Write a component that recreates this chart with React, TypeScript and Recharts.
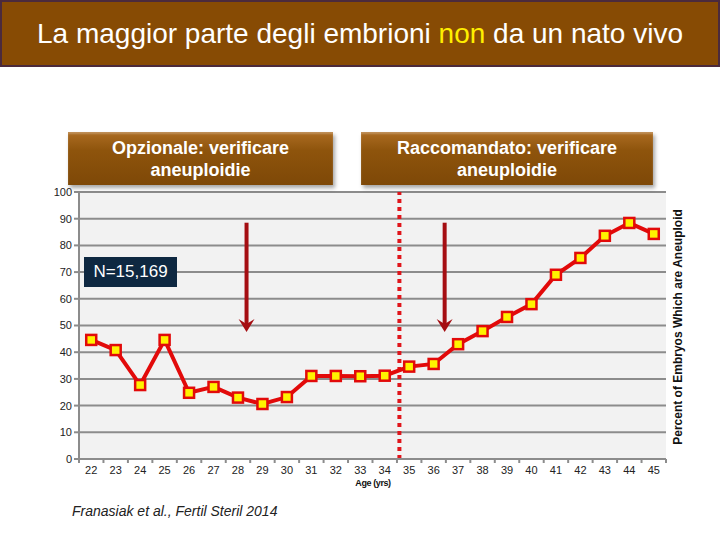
import React from "react";
import { LineChart, Line, XAxis, YAxis, CartesianGrid, ReferenceLine } from "recharts";

const ages = [22, 23, 24, 25, 26, 27, 28, 29, 30, 31, 32, 33, 34, 35, 36, 37, 38, 39, 40, 41, 42, 43, 44, 45];
const aneuploidy = [
  44.6, 40.8, 27.7, 44.6, 24.8, 27.0, 23.0, 20.6, 23.2, 31.1, 31.1, 31.0, 31.2, 34.6, 35.6, 43.0, 47.9, 53.2, 58.0,
  69.0, 75.3, 83.6, 88.4, 84.3,
];
const yTicks = [0, 10, 20, 30, 40, 50, 60, 70, 80, 90, 100];
// cut-off age and the two arrows (age, top, tip)
const cutoffAge = 34.6;
const arrows = [
  { age: 28.35, from: 88.5, to: 47.6 },
  { age: 36.45, from: 88.5, to: 47.6 },
];

const data = ages.map((age, i) => ({ age, value: aneuploidy[i] }));

const W = 720;
const H = 540;
const xAxisHeight = 30;
const margin = { top: 192, right: 54, bottom: 81 - xAxisHeight, left: 49 };
const yAxisWidth = 30;
const halfBand = (W - margin.left - margin.right - yAxisWidth) / ages.length / 2;
const grey = "#8C8C8C";

function SquareDot(props: any) {
  const { cx, cy } = props;
  if (cx == null || cy == null) return null;
  return <rect x={cx - 5} y={cy - 5} width={10} height={10} fill="#FFF200" stroke="#E20A0A" strokeWidth={2.5} />;
}

function AgeTick(props: any) {
  const { x, y, payload, index } = props;
  const axisY = y - 7;
  return (
    <g>
      <line x1={x - halfBand} y1={axisY} x2={x - halfBand} y2={axisY + 4} stroke={grey} strokeWidth={2} />
      {index === ages.length - 1 && (
        <line x1={x + halfBand} y1={axisY} x2={x + halfBand} y2={axisY + 4} stroke={grey} strokeWidth={2} />
      )}
      <text x={x} y={y} dy="0.71em" textAnchor="middle" fontSize={11} fill="#222" fontFamily="Liberation Sans, Arial">
        {payload.value}
      </text>
    </g>
  );
}

function Arrow(props: any) {
  const { x1, y1, x2, y2 } = props;
  return (
    <g>
      <line x1={x1} y1={y1} x2={x2} y2={y2 - 6} stroke="#A50E12" strokeWidth={4} />
      <path d={`M${x2 - 8},${y2 - 13} L${x2},${y2} L${x2 + 8},${y2 - 13} L${x2},${y2 - 8} Z`} fill="#A50E12" />
    </g>
  );
}

const boxStyle: React.CSSProperties = {
  position: "absolute",
  top: 132,
  height: 53,
  background: "linear-gradient(to bottom, #AC6C22 0%, #8E540C 35%, #7E4807 100%)",
  boxShadow: "2px 3px 4px rgba(0,0,0,0.35), inset 0 2px 2px rgba(255,255,255,0.25)",
  color: "#fff",
  fontFamily: "Liberation Sans, Arial, sans-serif",
  fontWeight: "bold",
  fontSize: 18,
  lineHeight: "22px",
  textAlign: "center",
  display: "flex",
  alignItems: "center",
  justifyContent: "center",
};

export default function App() {
  return (
    <div style={{ position: "absolute", left: 0, top: 0, width: W, height: H, background: "#fff", overflow: "hidden" }}>
      <div
        style={{
          position: "absolute",
          left: 0,
          top: 0,
          width: W,
          height: 67,
          boxSizing: "border-box",
          background: "#874B04",
          border: "2px solid #4B2A3C",
          color: "#fff",
          fontFamily: "Liberation Sans, Arial, sans-serif",
          fontSize: 28,
          lineHeight: "63px",
          textAlign: "center",
        }}
      >
        La maggior parte degli embrioni <span style={{ color: "#FFEE00" }}>non</span> da un nato vivo
      </div>

      <LineChart width={W} height={H} data={data} margin={margin} style={{ position: "absolute", left: 0, top: 0 }}>
        <CartesianGrid vertical={false} stroke={grey} strokeWidth={2} fill="#F2F2F2" />
        <XAxis
          dataKey="age"
          type="number"
          domain={[21.5, 45.5]}
          ticks={ages}
          interval={0}
          height={xAxisHeight}
          tick={<AgeTick />}
          tickLine={false}
          tickSize={5}
          tickMargin={2}
          axisLine={{ stroke: grey, strokeWidth: 2 }}
        />
        <YAxis
          width={yAxisWidth}
          domain={[0, 100]}
          ticks={yTicks}
          interval={0}
          tickSize={5}
          tickMargin={2}
          tick={{ fontSize: 11, fill: "#222", fontFamily: "Liberation Sans, Arial" }}
          tickLine={{ stroke: grey, strokeWidth: 2 }}
          axisLine={{ stroke: grey, strokeWidth: 2 }}
        />
        <ReferenceLine x={cutoffAge} stroke="#E0151B" strokeWidth={4} strokeDasharray="4 4" />
        {arrows.map((a, i) => (
          <ReferenceLine
            key={i}
            segment={[
              { x: a.age, y: a.from },
              { x: a.age, y: a.to },
            ]}
            shape={<Arrow />}
          />
        ))}
        <Line
          dataKey="value"
          stroke="#E20A0A"
          strokeWidth={4}
          dot={<SquareDot />}
          activeDot={false}
          isAnimationActive={false}
        />
      </LineChart>

      <div style={{ ...boxStyle, left: 68, width: 265 }}>
        Opzionale: verificare
        <br />
        aneuploidie
      </div>
      <div style={{ ...boxStyle, left: 361, width: 292 }}>
        Raccomandato: verificare
        <br />
        aneuploidie
      </div>

      <div
        style={{
          position: "absolute",
          left: 84,
          top: 257,
          width: 93,
          height: 30,
          background: "#0E2841",
          color: "#fff",
          fontFamily: "Liberation Sans, Arial, sans-serif",
          fontSize: 17,
          lineHeight: "30px",
          textAlign: "center",
        }}
      >
        N=15,169
      </div>

      <div
        style={{
          position: "absolute",
          left: 678,
          top: 327,
          width: 240,
          transform: "translate(-50%, -50%) rotate(-90deg)",
          fontFamily: "Liberation Sans, Arial, sans-serif",
          fontWeight: "bold",
          fontSize: 12,
          whiteSpace: "nowrap",
          textAlign: "center",
          color: "#111",
        }}
      >
        Percent of Embryos Which are Aneuploid
      </div>

      <div
        style={{
          position: "absolute",
          left: 343,
          top: 478,
          width: 60,
          textAlign: "center",
          fontFamily: "Liberation Sans, Arial, sans-serif",
          fontWeight: "bold",
          fontSize: 9,
          letterSpacing: -0.4,
          color: "#111",
        }}
      >
        Age (yrs)
      </div>

      <div
        style={{
          position: "absolute",
          left: 72,
          top: 503,
          fontFamily: "Liberation Sans, Arial, sans-serif",
          fontStyle: "italic",
          fontSize: 14,
          color: "#222",
        }}
      >
        Franasiak et al., Fertil Steril 2014
      </div>
    </div>
  );
}
